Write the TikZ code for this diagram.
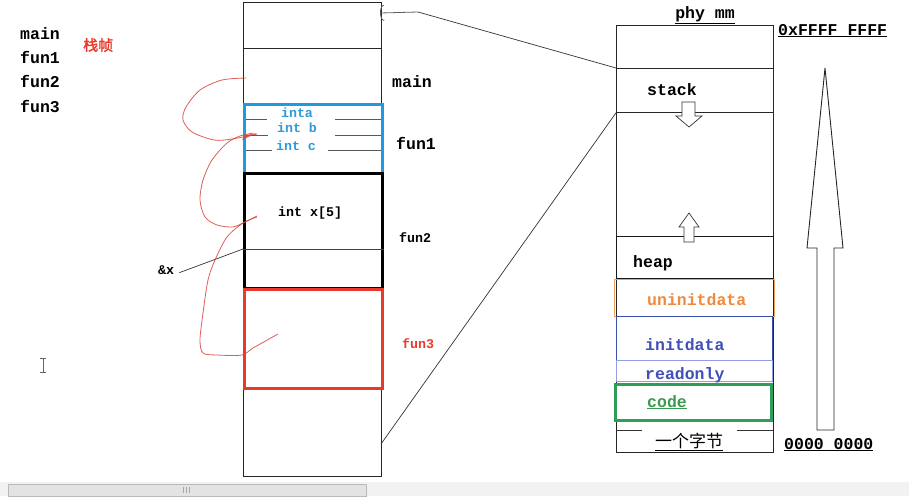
\documentclass[tikz,border=0pt]{standalone}
\usepackage{fontspec}
\setmonofont{Liberation Mono}
\newfontfamily\cjk{Noto Sans CJK SC}
\newfontfamily\cjkb[FakeBold=1.6]{Noto Sans CJK SC}
\usetikzlibrary{arrows.meta}
\definecolor{penred}{HTML}{D9443A}
\definecolor{boxred}{HTML}{E8392B}
\definecolor{boxblue}{HTML}{1E9BE0}
\definecolor{txtblue}{HTML}{2E9AD8}
\definecolor{orng}{HTML}{F5A05A}
\definecolor{orngtxt}{HTML}{F08A3C}
\definecolor{dblue}{HTML}{3A4FA8}
\definecolor{dbluetxt}{HTML}{4050B8}
\definecolor{lblue}{HTML}{8FA0E0}
\definecolor{grn}{HTML}{2E9E5A}
\definecolor{grntxt}{HTML}{3A9A50}
\tikzset{
  big/.style={font=\ttfamily\bfseries\fontsize{16.5}{18}\selectfont, inner sep=0pt, anchor=base west},
  small/.style={font=\ttfamily\bfseries\fontsize{13.3}{15}\selectfont, inner sep=0pt, anchor=base west},
  rect/.style={draw, inner sep=0pt, anchor=north west},
  pen/.style={penred, line width=0.8pt, opacity=0.85},
  thinline/.style={draw=black!85, line width=0.8pt},
}
\begin{document}
\begin{tikzpicture}[x=1pt,y=-1pt]
\useasboundingbox (0,0) rectangle (909,496);
\fill[white] (0,0) rectangle (909,496);
% window scrollbar
\fill[gray!10] (0,482) rectangle (909,496);
\draw[gray!55, fill=gray!22] (8,484) rectangle (366,496);
\foreach \gx in {183,186,189} \draw[gray!70] (\gx,487) -- (\gx,493);
% text cursor
\draw[gray!80!black, line width=0.8pt] (43,358) -- (43,372) (40,358) -- (46,358) (40,372) -- (46,372);

% left list
\node[big] (lmain) at (20,39) {main};
\node[big] (lfun1) at (20,63) {fun1};
\node[big] (lfun2) at (20,87.5) {fun2};
\node[big] (lfun3) at (20,112) {fun3};
\node[font=\cjkb\fontsize{15}{16}\selectfont, text=boxred, inner sep=0pt, anchor=west] (zhen) at (83,45) {栈帧};

% left stack column
\node[rect, thinline, minimum width=138pt, minimum height=46pt] (s0) at (243,2) {};
\node[rect, thinline, minimum width=138pt, minimum height=55pt] (s1) at (243,48) {};
\node[rect, thinline, minimum width=138pt, minimum height=89pt] (s5) at (243,387) {};
% fun1 inner lines
\draw[gray!70!black, line width=0.7pt] (245,119) -- (267,119) (335,119) -- (381,119)
  (245,135) -- (268,135) (335,135) -- (381,135)
  (245,150) -- (272,150) (328,150) -- (381,150);
\node[rect, draw=boxblue, line width=3pt, minimum width=138pt, minimum height=69pt] (f1) at (243,103) {};
\node[rect, draw=black, line width=2.6pt, minimum width=138pt, minimum height=115pt] (f2) at (243,172) {};
\coordinate (xline) at (243,249);
\draw[black!75, line width=0.7pt] (xline) -- (xline -| f2.east);
\node[rect, draw=boxred, line width=2.6pt, minimum width=138pt, minimum height=99pt] (f3) at (243,288) {};

% texts in column
\node[small, anchor=base, text=txtblue] (ta) at (297,117) {inta};
\node[small, anchor=base, text=txtblue] (tb) at (297,132) {int b};
\node[small, anchor=base, text=txtblue] (tc) at (296,150) {int c};
\node[small] (tx) at (278,216) {int x[5]};
\node[big] (rmain) at (392,87) {main};
\node[big] (rfun1) at (396,149) {fun1};
\node[small] (rfun2) at (399,242) {fun2};
\node[small, text=boxred] (rfun3) at (402,348) {fun3};
\node[small] (addr) at (158,274) {\&x};
\draw[black!80, line width=0.7pt] ([shift={(5,3)}]addr.east) -- (xline);

% red freehand curves
\draw[pen] plot[smooth] coordinates {(246,78) (222,80) (200,90) (186,107) (183,120) (192,132) (214,140) (232,139) (257,134)};
\fill[penred, opacity=0.8] (242,140) -- (257,133) -- (246,135) -- cycle;
\draw[pen] plot[smooth] coordinates {(253,133) (240,136) (227,143) (212,160) (203,180) (200,200) (205,217) (217,225) (233,227) (243,223) (257,216)};
\draw[pen] plot[smooth] coordinates {(257,217) (243,223) (227,237) (215,260) (208,280) (203,313) (200,340) (203,353) (217,355) (242,355) (253,348) (278,334)};

% physical memory column
\node[rect, thinline, minimum width=157pt, minimum height=427pt] (phy) at (616,25) {};
\node[rect, thinline, minimum width=157pt, minimum height=44pt] (stack) at (616,68) {};
\node[big] (tstack) at (647,95) {stack};
\node[big, anchor=base] (tphy) at (705,18) {\underline{phy mm}};
\node[big] (thi) at (778,35) {\underline{0xFFFF FFFF}};
\node[big] (tlo) at (784,449) {\underline{0000 0000}};

% pointer connectors
\coordinate (ptr) at (418,12);
\coordinate (ptrtip) at (380,13);
\draw[black!80, line width=0.7pt] (stack.north west) -- (ptr);
\draw[gray!75!black, line width=0.8pt, -{Arc Barb[length=4pt,width=16pt]}] (ptr) -- (ptrtip);
\coordinate (low) at (381,444);
\draw[black!80, line width=0.7pt] (low) -- (stack.south west);

% heap and segments
\node[rect, draw=black!90, line width=1pt, minimum width=157pt, minimum height=42pt] (heap) at (616,236) {};
\node[big] (theap) at (633,267) {heap};
\node[rect, draw=orng, line width=1pt, minimum width=160pt, minimum height=37pt] (uninit) at (614,279) {};
\node[big, text=orngtxt] (tuninit) at (647,305) {uninitdata};
\node[rect, draw=dblue, line width=1pt, minimum width=156pt, minimum height=44pt] (init) at (616,316) {};
\node[big, text=dbluetxt] (tinit) at (645,350) {initdata};
\node[rect, draw=lblue, line width=1pt, minimum width=156pt, minimum height=21pt] (ro) at (616,360) {};
\node[big, text=dbluetxt] (tro) at (645,379) {readonly};
\node[rect, draw=grn, fill=white, line width=2.8pt, minimum width=156pt, minimum height=36pt] (code) at (614,383) {};
\node[big, text=grntxt] (tcode) at (647,407) {\underline{code}};
\draw[black!80, line width=0.8pt] (616,430) -- (642,430) (737,430) -- (773,430);
\node[font=\cjk\fontsize{17}{19}\selectfont, inner sep=0pt, anchor=base] (byte) at (689,447) {\underline{一个字节}};

% growth arrows
\draw[black!80, fill=white, line width=0.7pt] (682,102) -- (695,102) -- (695,116) -- (702,116) -- (689,127) -- (676,116) -- (682,116) -- cycle;
\draw[black!80, fill=white, line width=0.7pt] (684,242) -- (694,242) -- (694,227) -- (699,227) -- (689,213) -- (679,227) -- (684,227) -- cycle;
\draw[black!85, line width=0.9pt] (817,430) -- (817,248) -- (807,248) -- (825,68) -- (843,248) -- (834,248) -- (834,430) -- cycle;
\end{tikzpicture}
\end{document}
